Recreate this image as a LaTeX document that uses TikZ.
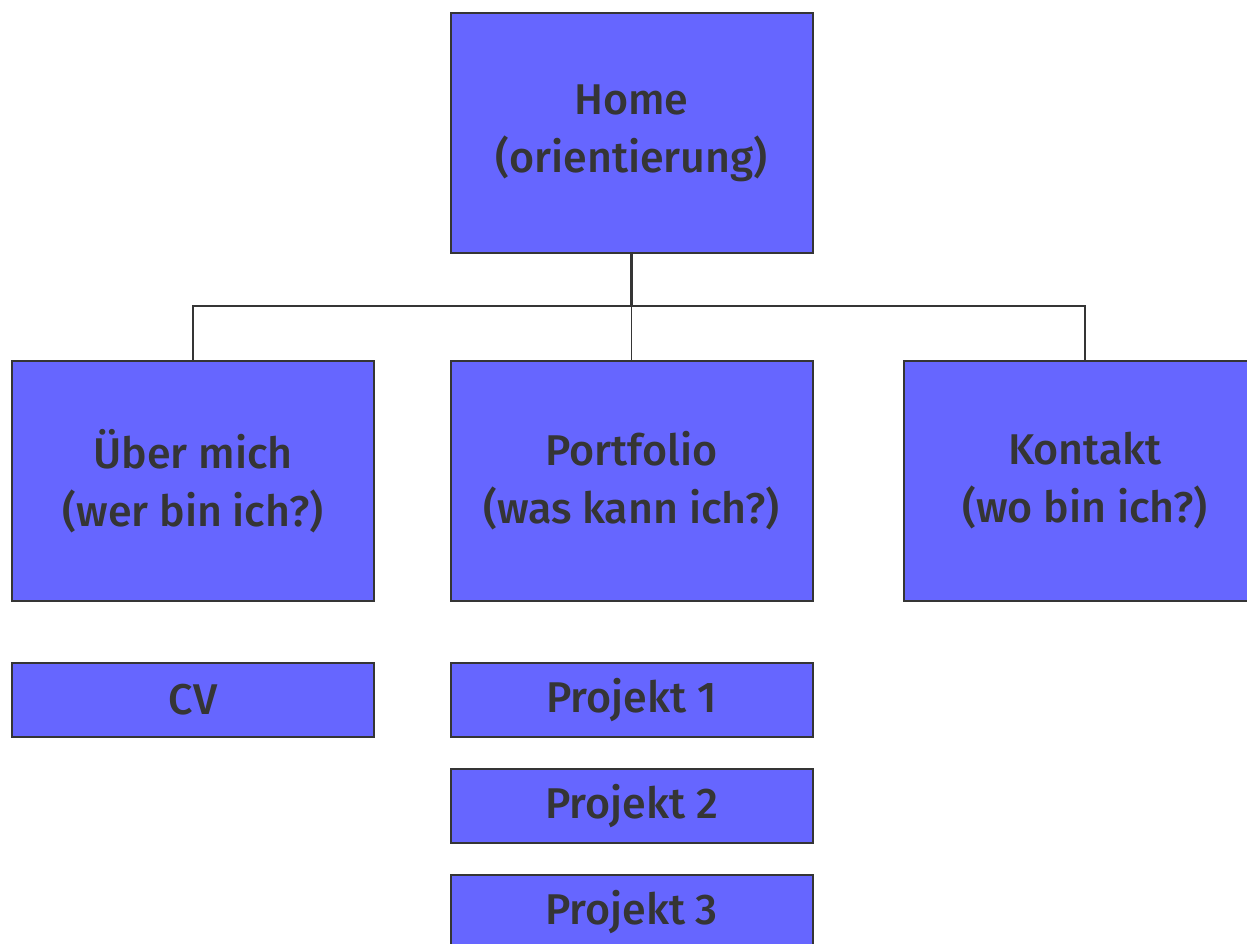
\documentclass[tikz,border=0pt]{standalone}
\usepackage{fontspec}
\setmainfont{Fira Sans}[UprightFont=* Medium]
\definecolor{boxfill}{HTML}{6666FF}
\definecolor{ink}{HTML}{353535}
\begin{document}
\begin{tikzpicture}[x=1pt,y=-1pt,
  box/.style={draw=ink, line width=2pt, fill=boxfill, text=ink, align=center,
    inner sep=0pt, font=\fontsize{43}{58}\selectfont},
  big/.style={box, minimum width=362pt, minimum height=240pt},
  small/.style={box, minimum width=362pt, minimum height=74pt},
  link/.style={draw=ink, line width=1.5pt}]
\useasboundingbox (0,0) rectangle (1247,944);
\node[big] (home) at (631.5,133) {Home\\(orientierung)};
\node[big] (ueber) at (193,481) {Über mich\\(wer bin ich?)};
\node[big] (port) at (631.5,481) {Portfolio\\(was kann ich?)};
\node[big] (kont) at (1085,481) {Kontakt\\(wo bin ich?)};
\node[small] (cv) at (193,700) {CV};
\node[small] (p1) at (631.5,700) {Projekt 1};
\node[small] (p2) at (631.5,806) {Projekt 2};
\node[small] (p3) at (631.5,912) {Projekt 3};
\coordinate (j) at (631.5,306);
\draw[link, line width=2.5pt] (home.south) -- (j);
\draw[link] (ueber.north) -- (ueber.north |- j) -- (kont.north |- j) -- (kont.north);
\draw[link] (j) -- (port.north);
\end{tikzpicture}
\end{document}
